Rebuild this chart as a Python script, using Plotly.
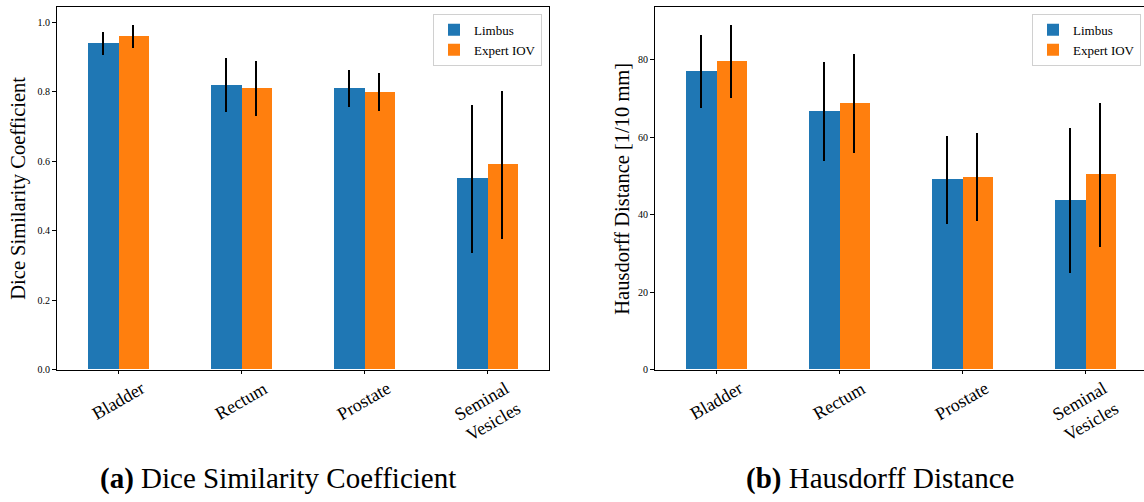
import plotly.graph_objects as go

# ---- data ----
categories = ["Bladder", "Rectum", "Prostate", "Seminal<br>Vesicles"]
series_names = ["Limbus", "Expert IOV"]

dsc_limbus = [0.94, 0.82, 0.81, 0.55]
dsc_limbus_err = [0.033, 0.079, 0.054, 0.213]
dsc_expert = [0.96, 0.81, 0.80, 0.59]
dsc_expert_err = [0.033, 0.080, 0.055, 0.213]

hd_limbus = [77.0, 66.6, 49.0, 43.6]
hd_limbus_err = [9.4, 12.75, 11.35, 18.7]
hd_expert = [79.6, 68.6, 49.7, 50.3]
hd_expert_err = [9.4, 12.75, 11.4, 18.6]

dsc_ticks = [0.0, 0.2, 0.4, 0.6, 0.8, 1.0]
hd_ticks = [0, 20, 40, 60, 80]

BLUE = "#1f77b4"
ORANGE = "#ff7f0e"
FONT = "Liberation Serif"

W, H = 1144, 502
idx = list(range(len(categories)))
bw = 0.25

fig = go.Figure()


def add_pair(xa, ya, lim, lim_e, exp, exp_e, legend):
    for name, vals, errs, off, col in [
        (series_names[0], lim, lim_e, -bw / 2, BLUE),
        (series_names[1], exp, exp_e, bw / 2, ORANGE),
    ]:
        fig.add_trace(go.Bar(
            x=[i + off for i in idx], y=vals, width=bw, name=name,
            marker=dict(color=col, line=dict(width=0)),
            error_y=dict(type="data", array=errs, visible=True,
                         color="black", thickness=2, width=0),
            xaxis=xa, yaxis=ya, legend=legend,
        ))


add_pair("x", "y", dsc_limbus, dsc_limbus_err, dsc_expert, dsc_expert_err, "legend")
add_pair("x2", "y2", hd_limbus, hd_limbus_err, hd_expert, hd_expert_err, "legend2")

y_bot = 1 - 374 / H
y_top = 1 - 7.5 / H

axis_common = dict(showgrid=False, zeroline=False, showline=True,
                   linecolor="black", linewidth=1, ticks="outside",
                   ticklen=3.5, tickwidth=1, tickcolor="black")

fig.update_layout(
    width=W, height=H, margin=dict(l=0, r=0, t=0, b=0),
    paper_bgcolor="white", plot_bgcolor="white",
    barmode="overlay", bargap=0,
    font=dict(family=FONT, color="black"),
    xaxis=dict(domain=[56.5 / W, 548.5 / W], range=[-0.5, 3.5],
               tickvals=idx, showticklabels=False, mirror=True, anchor="y",
               **axis_common),
    yaxis=dict(domain=[y_bot, y_top], range=[0, 1.0435],
               tickvals=dsc_ticks, ticktext=[f"{t:.1f}" for t in dsc_ticks],
               tickfont=dict(size=10), mirror=True, anchor="x",
               **axis_common),
    xaxis2=dict(domain=[654.5 / W, 1.0], range=[-0.5, -0.5 + (W - 654.5) / 123],
                tickvals=idx, showticklabels=False, mirror=True, anchor="y2",
                **axis_common),
    yaxis2=dict(domain=[y_bot, y_top], range=[0, 93.45],
                tickvals=hd_ticks, tickfont=dict(size=10), anchor="x2",
                **axis_common),
    legend=dict(x=542 / W, y=1 - 14 / H, xanchor="right", yanchor="top",
                bgcolor="white", bordercolor="#d0d0d0", borderwidth=1,
                font=dict(size=13, family=FONT), tracegroupgap=2),
    legend2=dict(x=1141 / W, y=1 - 14 / H, xanchor="right", yanchor="top",
                 bgcolor="white", bordercolor="#d0d0d0", borderwidth=1,
                 font=dict(size=13, family=FONT), tracegroupgap=2),
    showlegend=True,
)

ann = []
for xr in ["x", "x2"]:
    for i, c in zip(idx, categories):
        ann.append(dict(x=i, y=1 - 380 / H, xref=xr, yref="paper", text=c,
                        textangle=-30, showarrow=False, xanchor="center",
                        yanchor="top", font=dict(size=18, family=FONT)))

ann.append(dict(x=19 / W, y=1 - 191 / H, xref="paper", yref="paper",
                text="Dice Similarity Coefficient", textangle=-90,
                xanchor="center", yanchor="middle",
                showarrow=False, font=dict(size=20.5, family=FONT)))
ann.append(dict(x=622 / W, y=1 - 191 / H, xref="paper", yref="paper",
                text="Hausdorff Distance [1/10 mm]", textangle=-90,
                xanchor="center", yanchor="middle",
                showarrow=False, font=dict(size=20.5, family=FONT)))
ann.append(dict(x=278 / W, y=1 - 484 / H, xref="paper", yref="paper",
                text="<b>(a)</b> Dice Similarity Coefficient",
                xanchor="center", yanchor="middle",
                showarrow=False, font=dict(size=29, family=FONT)))
ann.append(dict(x=880 / W, y=1 - 484 / H, xref="paper", yref="paper",
                text="<b>(b)</b> Hausdorff Distance",
                xanchor="center", yanchor="middle",
                showarrow=False, font=dict(size=29, family=FONT)))
fig.update_layout(annotations=ann)

fig.write_html("out.html")
